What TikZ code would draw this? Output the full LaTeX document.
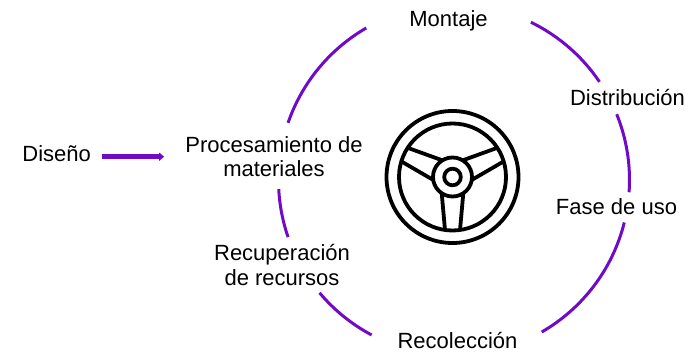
\documentclass[tikz,border=0pt]{standalone}
\usepackage{fontspec}
\setmainfont{Liberation Sans}
\usetikzlibrary{calc,arrows.meta}
\definecolor{morado}{RGB}{112,10,200}

\begin{document}
\begin{tikzpicture}[x=1pt,y=-1pt,
  etiqueta/.style={font=\fontsize{22}{24.5}\selectfont,inner sep=0pt,align=center},
  ciclo/.style={morado,line width=3pt},
  flecha/.style={morado,line width=4.6pt,-{Triangle[length=5pt,width=8pt]}},
  rueda/.style={black,line width=3.8pt}]
\useasboundingbox (0,0) rectangle (692,352);
\coordinate (c) at (454,180);
\coordinate (w) at (452.5,177);
% etapas del ciclo
\node[etiqueta,anchor=base] (montaje) at (448.5,26.7) {Montaje};
\node[etiqueta,anchor=base] (distrib) at (627.5,106) {Distribución};
\node[etiqueta,anchor=base] (uso) at (616.5,215) {Fase de uso};
\node[etiqueta,anchor=base] (recol) at (457.5,348.5) {Recolección};
\node[etiqueta] (proc) at (274,156.5) {Procesamiento de\\materiales};
\node[etiqueta] (recup) at (282,265) {Recuperación\\de recursos};
\node[etiqueta,anchor=base] (diseno) at (56.7,161.3) {Diseño};
% flecha de entrada
\draw[flecha] ([xshift=11pt,yshift=4.6pt]diseno.base east) -- ([xshift=-21pt,yshift=4.6pt]diseno.base east -| proc.west);
% arcos
\foreach \s/\e in {-120/-161,-34/-64,4/-22,14/60,140/118,177/161}{
	\draw[ciclo] ($(c)+(\s:175.5)$) arc[start angle=\s,end angle=\e,radius=175.5];}
% volante
\draw[rueda] (w) circle[radius=66];
\draw[rueda] (w) circle[radius=53.5];
\draw[rueda] (w) circle[radius=19.5];
\draw[rueda] (w) circle[radius=8.3];
\foreach \a in {-155,-25,90}{
	\draw[rueda] ($(w)+(\a:16.2)+(\a+90:10.8)$) -- ($(w)+(\a:53)+(\a+90:7.5)$);
	\draw[rueda] ($(w)+(\a:16.2)+(\a-90:10.8)$) -- ($(w)+(\a:53)+(\a-90:7.5)$);}
\end{tikzpicture}
\end{document}
